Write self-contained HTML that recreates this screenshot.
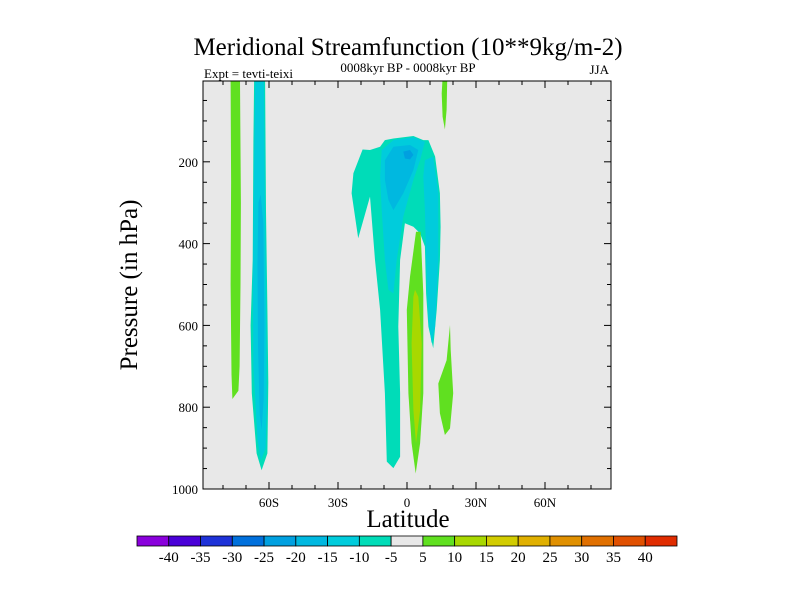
<!DOCTYPE html>
<html><head><meta charset="utf-8"><style>
body{margin:0;background:#fff;width:800px;height:600px;overflow:hidden}
svg text{font-family:"Liberation Serif",serif;fill:#000}
</style></head><body>
<svg id="chart" width="800" height="600" xmlns="http://www.w3.org/2000/svg">
<text x="408" y="55" font-size="25" text-anchor="middle">Meridional Streamfunction (10**9kg/m-2)</text>
<text x="408" y="72" font-size="13" text-anchor="middle">0008kyr BP - 0008kyr BP</text>
<text x="204" y="78" font-size="13">Expt = tevti-teixi</text>
<text x="609" y="74" font-size="13" text-anchor="end">JJA</text>
<text x="0" y="0" font-size="25" text-anchor="middle" transform="translate(137,285) rotate(-90)">Pressure (in hPa)</text>
<text x="408" y="527" font-size="25" text-anchor="middle">Latitude</text>
<g id="plot"></g>
<g id="cbar"></g>
</svg>
<script>
const latMin=-88.7, latMax=88.7, pTop=2.4, pBot=1000;
const X0=203,X1=611,Y0=81,Y1=489;
const xTicks=[-60,-30,0,30,60];
const xTickLabels=["60S","30S","0","30N","60N"];
const yTicks=[200,400,600,800,1000];
const levels=[-40,-35,-30,-25,-20,-15,-10,-5,5,10,15,20,25,30,35,40];
const levelColors=["#8a00dc","#4a00d8","#1e32d8","#0070dc","#00a0e0","#00b8e0","#00ccdc","#00dcb8","#e8e8e8","#60e020","#a8d800","#d2cc00","#e0b000","#e09000","#e07000","#e05000","#e02c00"];
// contour regions: [lat, pressure] pairs, with fill level index
const leftGreen=[[-76.7,0],[-72.6,0],[-72.2,300],[-72.4,500],[-72.8,700],[-73.3,760],[-75.9,780],[-76.3,720],[-76.7,500],[-76.5,250]];
const leftTeal=[[-66.5,0],[-61.7,0],[-61.3,320],[-60.7,560],[-60.3,740],[-60.7,913],[-63.2,954],[-65.4,913],[-67.5,766],[-68,600],[-67.1,440],[-66.8,150]];
const leftCyan=[[-66,0],[-62.2,0],[-61.8,300],[-61.2,600],[-61,800],[-61.5,900],[-63.5,930],[-65,880],[-66.8,700],[-67,500],[-66.5,200]];
const leftBlue=[[-64.6,300],[-63.6,280],[-62.5,350],[-62,600],[-62.3,780],[-63.2,856],[-64,820],[-64.8,650],[-65,450]];
const cellTeal=[[-5.9,143],[2.8,137],[7.1,147],[9.3,147],[12.2,187],[14.3,277],[14.6,359],[14.3,440],[12.9,562],[11.4,656],[9.3,603],[8.3,522],[7.8,407],[5.7,375],[2.8,359],[-0.9,350],[-3.0,440],[-3.8,603],[-3.0,766],[-3.0,921],[-5.9,949],[-8.8,933],[-9.6,766],[-11.7,562],[-13.9,440],[-16.1,285],[-21.2,387],[-24.1,277],[-23.3,228],[-19.3,170],[-16.1,171],[-11.7,163],[-9.6,147]];
const cellCyanLeft=[[-11,171],[-5.9,147],[2.8,140],[7.8,151],[5.7,196],[2.8,244],[-1.6,334],[-4.5,440],[-5.9,522],[-8.1,513],[-9.6,440],[-11,318],[-11.7,236]];
const cellCyanRight=[[7.8,196],[11.4,187],[13.6,277],[13.6,440],[12.2,603],[10.7,644],[9.3,587],[8.3,440],[7.8,318],[7.1,236]];
const cellBlue=[[-9.6,196],[-5.9,163],[1.3,159],[4.9,171],[2.8,220],[-1.6,277],[-5.9,318],[-8.1,293],[-9.6,244]];
const cellDarkBlue=[[-1.6,175],[1.3,171],[2.8,183],[1.3,194],[-0.9,192]];
const eqGreen=[[3.9,371],[5.9,371],[7.1,522],[7.1,766],[5.7,888],[3.8,962],[2.0,888],[0.6,766],[-0.1,562],[1.3,481]];
const eqYellowGreen=[[3.5,513],[4.9,530],[6.4,644],[5.7,807],[3.9,888],[2.8,807],[2.0,644],[2.8,530]];
const nhGreen=[[18.7,599],[19.0,660],[20.1,766],[18.7,852],[16.5,868],[14.3,815],[13.6,742],[17.2,685]];
const topSpike=[[15.4,0],[17.5,0],[17.2,73],[16.5,121],[15.5,90],[15.1,33]];
const regions=[["left-green",leftGreen,9],["left-teal",leftTeal,7],["left-cyan",leftCyan,6],["left-blue",leftBlue,5],
["cell-teal",cellTeal,7],["cell-cyan-left",cellCyanLeft,6],["cell-cyan-right",cellCyanRight,6],["cell-blue",cellBlue,5],["cell-dark-blue",cellDarkBlue,4],
["eq-green",eqGreen,9],["eq-yellowgreen",eqYellowGreen,10],["nh-green",nhGreen,9],["top-spike",topSpike,9]];

const NS="http://www.w3.org/2000/svg";
const xs=l=>X0+(l-latMin)/(latMax-latMin)*(X1-X0);
const ys=p=>Y0+(Math.max(p,pTop)-pTop)/(pBot-pTop)*(Y1-Y0);
function mk(tag,attrs,parent){const e=document.createElementNS(NS,tag);for(const k in attrs)e.setAttribute(k,attrs[k]);parent.appendChild(e);return e;}
const plot=document.getElementById('plot');
const bg=mk('rect',{x:X0,y:Y0,width:X1-X0,height:Y1-Y0,fill:'#e8e8e8'},plot);


for(const [name,pts,li] of regions){
  const pg=mk('polygon',{points:pts.map(q=>xs(q[0]).toFixed(1)+','+ys(q[1]).toFixed(1)).join(' '),fill:levelColors[li]},plot);
  
  
}
const fr=mk('rect',{x:X0,y:Y0,width:X1-X0,height:Y1-Y0,fill:'none',stroke:'#000','stroke-width':1},plot);


// ticks
for(let l=-80;l<=80;l+=10){
  const major=xTicks.includes(l);const len=major?7:4;const x=xs(l);
  mk('line',{x1:x,y1:Y1,x2:x,y2:Y1-len,stroke:'#000'},plot);
  mk('line',{x1:x,y1:Y0,x2:x,y2:Y0+len,stroke:'#000'},plot);
}
xTicks.forEach((l,i)=>{
  const t=mk('text',{x:xs(l),y:Y1+18,'font-size':13,'text-anchor':'middle'},plot);t.textContent=xTickLabels[i];
  
  
});
for(let p=50;p<=1000;p+=50){
  const major=yTicks.includes(p);const len=major?7:4;const y=ys(p);
  mk('line',{x1:X0,y1:y,x2:X0+len,y2:y,stroke:'#000'},plot);
  mk('line',{x1:X1,y1:y,x2:X1-len,y2:y,stroke:'#000'},plot);
}
yTicks.forEach(p=>{
  const t=mk('text',{x:X0-5,y:ys(p)+5,'font-size':13,'text-anchor':'end'},plot);t.textContent=p;
  
  
});
// colorbar
const cb=document.getElementById('cbar');
const CX0=137,CX1=677,CY=536,CH=10,n=levelColors.length,w=(CX1-CX0)/n;
levelColors.forEach((c,i)=>{
  const r=mk('rect',{x:CX0+i*w,y:CY,width:w,height:CH,fill:c,stroke:'#000','stroke-width':0.8},cb);
  
  
});
levels.forEach((v,i)=>{
  const t=mk('text',{x:CX0+(i+1)*w,y:CY+26,'font-size':15,'text-anchor':'middle'},cb);t.textContent=v;
  
  
});
</script>
</body></html>
